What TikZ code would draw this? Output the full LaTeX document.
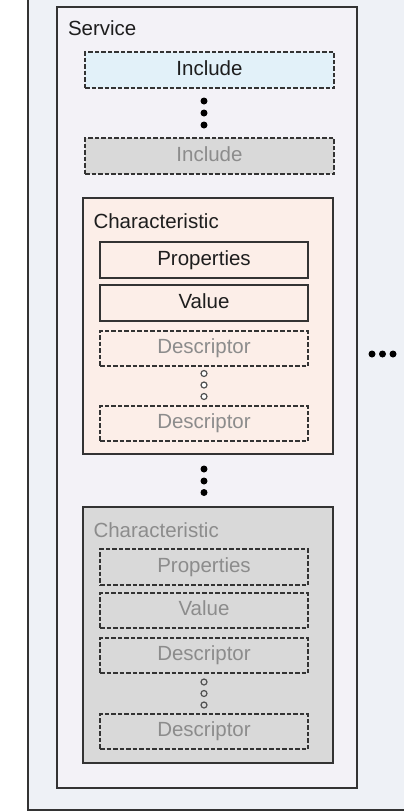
\documentclass[tikz,border=0pt]{standalone}
\usepackage{fontspec}
\setmainfont{Liberation Sans}
\definecolor{outerbg}{HTML}{EEF1F6}
\definecolor{servbg}{HTML}{F3F2F7}
\definecolor{incbg}{HTML}{E2F1F9}
\definecolor{greybg}{HTML}{D9D9D9}
\definecolor{charbg}{HTML}{FCEEE8}
\definecolor{edge}{HTML}{333333}
\definecolor{dimtext}{HTML}{8C8C8C}
\definecolor{maintext}{HTML}{1E1E1E}
\tikzset{
  x=1pt,y=-1pt,
  every node/.style={font=\fontsize{20.5}{23}\selectfont, inner sep=0pt, outer sep=0pt},
  frame/.style={draw=edge, line width=1.5pt},
  item/.style={frame, minimum width=249pt, minimum height=36pt, text height=14pt, text depth=4pt},
  subitem/.style={frame, minimum width=208pt, minimum height=36pt, text height=14pt, text depth=4pt},
  dashedbox/.style={dash pattern=on 4.5pt off 2pt, line width=1.7pt},
  bigdot/.style={circle, fill=black, minimum size=7pt},
  smalldot/.style={circle, draw=edge!85, line width=1.2pt, fill=white, minimum size=6pt},
  title/.style={anchor=base west, text=maintext},
}
\begin{document}
\begin{tikzpicture}
\useasboundingbox (0,0) rectangle (404,812);
% outer container
\fill[white] (0,0) rectangle (404,812);
\fill[outerbg] (28,-5) rectangle (410,810);
\draw[edge, line width=1.5pt] (28,-5) -- (28,810) -- (410,810);
% service
\node[frame, fill=servbg, minimum width=300pt, minimum height=781pt] (service) at (207,397.5) {};
\node[title] (servicet) at (68,35) {Service};
\node[item, dashedbox, fill=incbg, text=maintext] (inc1) at (209.5,70) {Include};
\node[bigdot] (d1) at (204,101) {};
\node[bigdot] (d2) at (204,113) {};
\node[bigdot] (d3) at (204,125) {};
\node[item, dashedbox, fill=greybg, text=dimtext] (inc2) at (209.5,156) {Include};
% characteristic 1
\node[frame, fill=charbg, minimum width=250pt, minimum height=256pt] (char1) at (208,326) {};
\node[title] (char1t) at (93.5,228) {Characteristic};
\node[subitem, text=maintext] (prop1) at (204,260) {Properties};
\node[subitem, text=maintext] (val1) at (204,303) {Value};
\node[subitem, dashedbox, minimum height=35pt, text=dimtext] (desc1a) at (204,348.5) {Descriptor};
\node[smalldot] (c1) at (204,373.5) {};
\node[smalldot] (c2) at (204,385) {};
\node[smalldot] (c3) at (204,396.5) {};
\node[subitem, dashedbox, minimum height=35pt, text=dimtext] (desc1b) at (204,423.5) {Descriptor};
% dots between characteristics
\node[bigdot] (e1) at (204,469) {};
\node[bigdot] (e2) at (204,481) {};
\node[bigdot] (e3) at (204,492.5) {};
% characteristic 2
\node[frame, fill=greybg, minimum width=250pt, minimum height=256pt] (char2) at (208,635) {};
\node[title, text=dimtext] (char2t) at (93.5,537) {Characteristic};
\node[subitem, dashedbox, text=dimtext] (prop2) at (204,567) {Properties};
\node[subitem, dashedbox, minimum height=35pt, text=dimtext] (val2) at (204,610.5) {Value};
\node[subitem, dashedbox, minimum height=35pt, text=dimtext] (desc2a) at (204,655.5) {Descriptor};
\node[smalldot, fill=greybg] (f1) at (204,682) {};
\node[smalldot, fill=greybg] (f2) at (204,693.5) {};
\node[smalldot, fill=greybg] (f3) at (204,705) {};
\node[subitem, dashedbox, minimum height=35pt, text=dimtext] (desc2b) at (204,731.5) {Descriptor};
% ellipsis on the right
\node[bigdot] (r1) at (372,354) {};
\node[bigdot] (r2) at (382.5,354) {};
\node[bigdot] (r3) at (393,354) {};
\end{tikzpicture}
\end{document}
